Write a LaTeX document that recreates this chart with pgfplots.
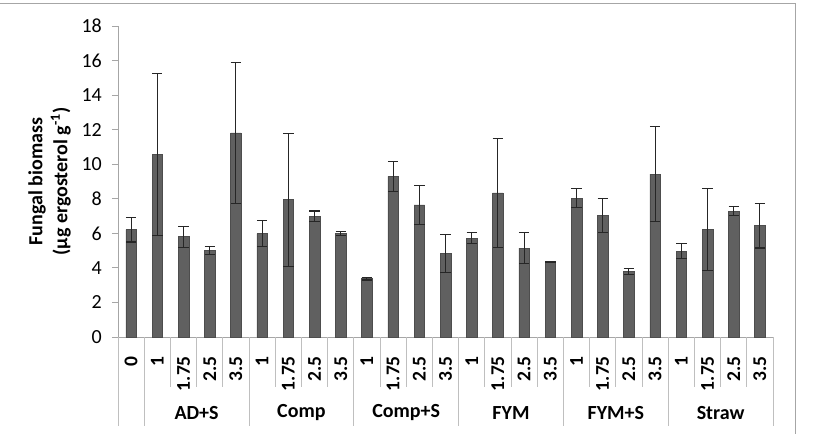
\documentclass[border=0pt]{standalone}
\usepackage{pgfplots}
\pgfplotsset{compat=1.18}
\usepackage{pgfplotstable}
\usepackage{fontspec}
\setmainfont{Carlito}
\definecolor{barfill}{HTML}{606060}
\definecolor{linegray}{HTML}{BFBFBF}
\definecolor{axisgray}{HTML}{A6A6A6}
\pgfplotstableread{
x y e
0 6.22 0.72
1 10.58 4.68
2 5.81 0.61
3 5.00 0.23
4 11.81 4.10
5 5.98 0.75
6 7.95 3.85
7 6.99 0.30
8 5.98 0.12
9 3.38 0.08
10 9.29 0.88
11 7.64 1.15
12 4.85 1.10
13 5.73 0.31
14 8.34 3.16
15 5.15 0.88
16 4.34 0.05
17 8.03 0.54
18 7.05 0.99
19 3.80 0.19
20 9.42 2.75
21 4.96 0.44
22 6.22 2.36
23 7.28 0.27
24 6.45 1.30
}\datatable
\begin{document}
\begin{tikzpicture}
\begin{axis}[
  at={(0pt,0pt)}, anchor=south west,
  scale only axis, width=655pt, height=311pt,
  xmin=-0.5, xmax=24.5, ymin=0, ymax=18,
  axis lines*=left,
  axis line style={axisgray, line width=0.8pt},
  xtick=data,
  xticklabels={0,1,1.75,2.5,3.5,1,1.75,2.5,3.5,1,1.75,2.5,3.5,1,1.75,2.5,3.5,1,1.75,2.5,3.5,1,1.75,2.5,3.5},
  x tick style={draw=none},
  xticklabel style={rotate=90, anchor=east, inner sep=0pt, font=\fontsize{19.5}{20}\selectfont\bfseries},
  xticklabel shift=13pt,
  ytick={0,2,...,18},
  ytick pos=left,
  tick align=outside,
  major tick length=6pt,
  y tick style={axisgray, line width=0.8pt},
  yticklabel style={font=\fontsize{20}{22}\selectfont, inner sep=0pt, anchor=east},
  yticklabel shift=10pt,
  /pgf/number format/assume math mode=true,
  clip=false,
]
\addplot[ybar, bar width=10.5pt, fill=barfill, draw=barfill!80!black, line width=0.4pt,
  error bars/.cd, y dir=both, y explicit,
  error bar style={line width=1.1pt, color=black!85},
  error mark options={line width=1.1pt, mark size=5.2pt, rotate=90, black!85}]
  table[x=x, y=y, y error=e] {\datatable};
% category separators
\pgfplotsinvokeforeach{-0.5,0.5,4.5,8.5,12.5,16.5,20.5,24.5}{
  \draw[linegray, line width=0.8pt] (axis cs:#1,0) -- ([yshift=-89pt]axis cs:#1,0);
}
\pgfplotsinvokeforeach{1.5,2.5,3.5,5.5,6.5,7.5,9.5,10.5,11.5,13.5,14.5,15.5,17.5,18.5,19.5,21.5,22.5,23.5}{
  \draw[linegray, line width=0.8pt] (axis cs:#1,0) -- ([yshift=-50pt]axis cs:#1,0);
}
\node[font=\fontsize{20}{22}\selectfont\bfseries, inner sep=0pt] at ([yshift=-76pt]axis cs:2.5,0) {AD+S};
\node[font=\fontsize{20}{22}\selectfont\bfseries, inner sep=0pt] at ([yshift=-76pt]axis cs:6.5,0) {Comp};
\node[font=\fontsize{20}{22}\selectfont\bfseries, inner sep=0pt] at ([yshift=-76pt]axis cs:10.5,0) {Comp+S};
\node[font=\fontsize{20}{22}\selectfont\bfseries, inner sep=0pt] at ([yshift=-76pt]axis cs:14.5,0) {FYM};
\node[font=\fontsize{20}{22}\selectfont\bfseries, inner sep=0pt] at ([yshift=-76pt]axis cs:18.5,0) {FYM+S};
\node[font=\fontsize{20}{22}\selectfont\bfseries, inner sep=0pt] at ([yshift=-76pt]axis cs:22.5,0) {Straw};
\node[rotate=90, align=center, inner sep=0pt, font=\fontsize{20}{25}\selectfont\bfseries]
  at ([xshift=-68.5pt]axis cs:-0.5,9) {Fungal biomass\\(µg ergosterol g\textsuperscript{-1})};
\end{axis}
\draw[axisgray, line width=0.8pt] (-118pt,334pt) -- (677pt,334pt) -- (677pt,-97pt);
\pgfresetboundingbox
\useasboundingbox (-118pt,-97pt) rectangle (695pt,337pt);
\end{tikzpicture}
\end{document}
